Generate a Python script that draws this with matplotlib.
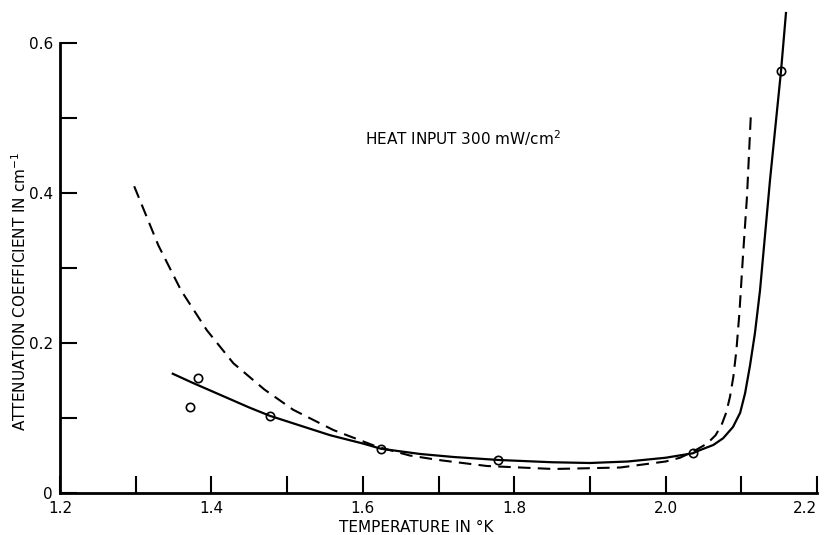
import matplotlib
matplotlib.use("Agg")
import matplotlib.pyplot as plt

# measured points (open circles)
temp_pts = [1.372, 1.382, 1.477, 1.624, 1.779, 2.036, 2.1525]
atten_pts = [0.115, 0.153, 0.103, 0.059, 0.044, 0.053, 0.563]

# solid curve
temp_solid = [1.349, 1.375, 1.40, 1.425, 1.45, 1.477, 1.52, 1.557, 1.60, 1.624,
              1.676, 1.72, 1.78, 1.85, 1.90, 1.95, 2.00, 2.036, 2.045, 2.063,
              2.076, 2.089, 2.0985, 2.105, 2.1115, 2.118, 2.1247, 2.1379, 2.1525, 2.159]
atten_solid = [0.159, 0.147, 0.136, 0.125, 0.114, 0.103, 0.089, 0.077, 0.066, 0.059,
               0.052, 0.048, 0.044, 0.041, 0.040, 0.042, 0.047, 0.053, 0.057, 0.064,
               0.073, 0.088, 0.107, 0.133, 0.170, 0.213, 0.270, 0.417, 0.563, 0.640]

# dashed curve
temp_dash = [1.298, 1.33, 1.36, 1.394, 1.429, 1.47, 1.508, 1.561, 1.618, 1.662,
             1.70, 1.764, 1.852, 1.94, 2.00, 2.019, 2.036, 2.055, 2.066, 2.074,
             2.080, 2.085, 2.0895, 2.0935, 2.0975, 2.1022, 2.1075, 2.1128]
atten_dash = [0.409, 0.330, 0.270, 0.217, 0.173, 0.138, 0.111, 0.084, 0.062, 0.050,
              0.044, 0.036, 0.032, 0.034, 0.042, 0.047, 0.055, 0.066, 0.077, 0.091,
              0.107, 0.128, 0.155, 0.190, 0.240, 0.316, 0.395, 0.508]

x_ticks = [1.2, 1.3, 1.4, 1.5, 1.6, 1.7, 1.8, 1.9, 2.0, 2.1, 2.2]
x_labels = ['1.2', '', '1.4', '', '1.6', '', '1.8', '', '2.0', '', '2.2']
y_ticks = [0, 0.1, 0.2, 0.3, 0.4, 0.5, 0.6]
y_labels = ['0', '', '0.2', '', '0.4', '', '0.6']

fig = plt.figure(figsize=(8.25, 5.35), dpi=100)
ax = fig.add_axes([60 / 825, 42 / 535, 757 / 825, 450 / 535])

ax.plot(temp_solid, atten_solid, color='black', lw=1.6, clip_on=False)
ax.plot(temp_dash, atten_dash, color='black', lw=1.5, dashes=(6, 3.5), clip_on=False)
ax.plot(temp_pts, atten_pts, 'o', mfc='none', mec='black', ms=6, mew=1.2, clip_on=False)

ax.set_xlim(1.2, 2.2)
ax.set_ylim(0, 0.6)
ax.spines['top'].set_visible(False)
ax.spines['right'].set_visible(False)
ax.spines['left'].set_linewidth(2)
ax.spines['bottom'].set_linewidth(2)

ax.set_xticks(x_ticks)
ax.set_xticklabels(x_labels)
ax.set_yticks(y_ticks)
ax.set_yticklabels(y_labels)
ax.tick_params(axis='both', direction='in', length=12, width=1.5, labelsize=11)
ax.tick_params(axis='x', pad=6)
ax.tick_params(axis='y', pad=5)
# last x label sits against the right edge
ax.get_xticklabels()[-1].set_horizontalalignment('right')

ax.text(1.603, 0.473, 'HEAT INPUT 300 mW/cm$^2$', fontsize=11, va='center', ha='left')

fig.text(416 / 825, 8 / 535, 'TEMPERATURE IN °K', fontsize=11, ha='center', va='center')
fig.text(20 / 825, 244 / 535, 'ATTENUATION COEFFICIENT IN cm$^{-1}$', fontsize=11,
         rotation=90, ha='center', va='center')

fig.savefig('out.png', dpi=100)
